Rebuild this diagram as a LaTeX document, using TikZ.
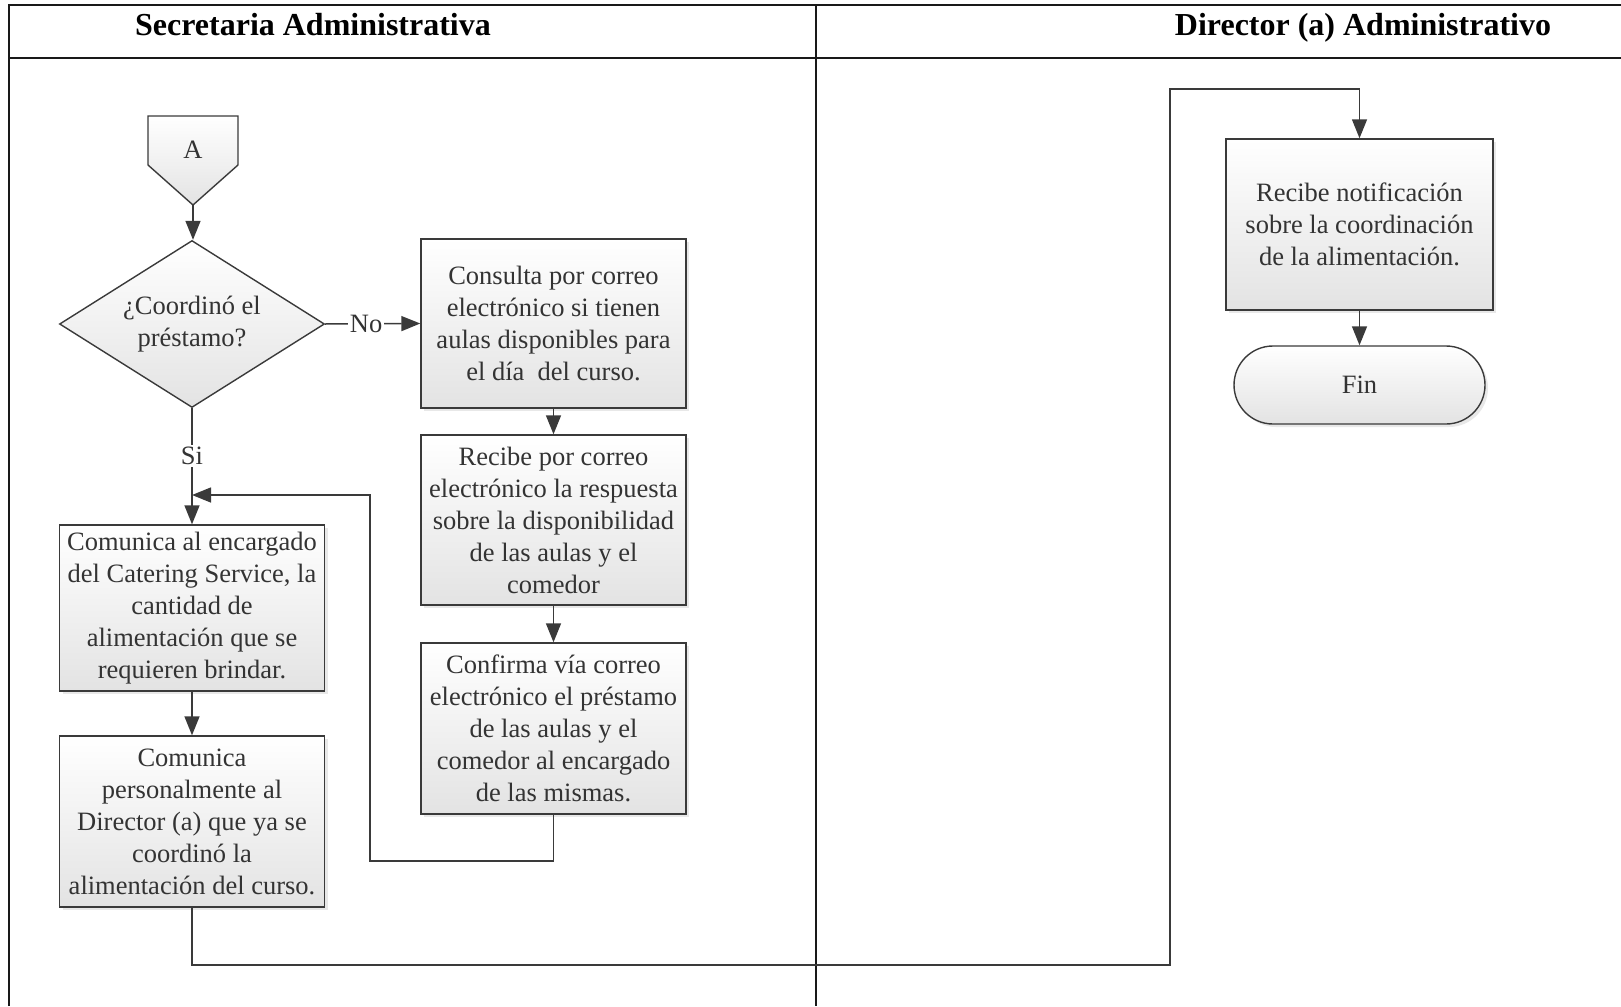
\documentclass[tikz,border=0pt]{standalone}
\usepackage{fontspec}
\setmainfont{Liberation Serif}
\usetikzlibrary{shapes.geometric,shapes.misc,arrows.meta,shadows}
\definecolor{ink}{HTML}{333333}
\definecolor{edgec}{HTML}{3A3A3A}
\newcommand\bxfont{\fontsize{26.5}{32}\selectfont}
\newcommand\ttlfont{\fontsize{32}{36}\selectfont\bfseries}
\begin{document}
\begin{tikzpicture}[x=1pt,y=-1pt,
  frame/.style={draw=black!90, line width=2pt},
  proc/.style={draw=edgec, line width=1.4pt, top color=white, bottom color=gray!22,
    minimum width=265pt, inner sep=0pt, align=center, font=\bxfont, text=ink,
    drop shadow={opacity=0.18, shadow xshift=3pt, shadow yshift=-3pt}},
  arr/.style={draw=edgec, line width=1.5pt, -{Triangle[length=19pt,width=15pt]}},
  lbl/.style={fill=white, inner sep=2pt, font=\bxfont, text=ink},
  ttl/.style={font=\ttlfont, text=black, anchor=base}]
\useasboundingbox (0,0) rectangle (1621,1006);
% frame
\draw[frame] (9,1006) -- (9,5) -- (1621,5);
\draw[frame] (9,58) -- (1621,58);
\draw[frame] (816,5) -- (816,1006);
\node[ttl] (t1) at (313,36) {Secretaria Administrativa};
\node[ttl] (t2) at (1363,36) {Director (a) Administrativo};
% off-page connector A
\path[draw=edgec, line width=1.4pt, top color=white, bottom color=gray!22]
  (148,116) -- (238,116) -- (238,165) -- (193,205) -- (148,165) -- cycle;
\node[font=\bxfont, text=ink] (A) at (193,150) {A};
\coordinate (Atip) at (193,205);
% decision
\node[diamond, draw=edgec, line width=1.4pt, top color=white, bottom color=gray!22,
  minimum width=265pt, minimum height=167pt, inner sep=0pt, aspect=1.59,
  align=center, font=\bxfont, text=ink] (dec) at (192,324)
  {¿Coordinó el\\préstamo?};
% process boxes
\node[proc, minimum height=169pt] (b1) at (553.5,323.5)
  {Consulta por correo\\electrónico si tienen\\aulas disponibles para\\el día \ del curso.};
\node[proc, minimum height=170pt] (b2) at (553.5,520)
  {Recibe por correo\\electrónico la respuesta\\sobre la disponibilidad\\de las aulas y el\\comedor};
\node[proc, minimum height=171pt] (b3) at (553.5,728.5)
  {Confirma vía correo\\electrónico el préstamo\\de las aulas y el\\comedor al encargado\\de las mismas.};
\node[proc, minimum height=166pt] (b4) at (192,608)
  {Comunica al encargado\\del Catering Service, la\\cantidad de\\alimentación que se\\requieren brindar.};
\node[proc, minimum height=171pt] (b5) at (192,821.5)
  {Comunica\\personalmente al\\Director (a) que ya se\\coordinó la\\alimentación del curso.};
\node[proc, minimum width=267pt, minimum height=171pt] (b6) at (1359.5,224.5)
  {Recibe notificación\\sobre la coordinación\\de la alimentación.};
\node[rounded rectangle, draw=edgec, line width=1.4pt, top color=white, bottom color=gray!22,
  minimum width=251pt, minimum height=78pt, inner sep=0pt, font=\bxfont, text=ink,
  drop shadow={opacity=0.18, shadow xshift=3pt, shadow yshift=-3pt}] (fin) at (1359.5,385) {Fin};
% connectors
\draw[arr] (Atip) -- (Atip |- dec.north);
\draw[arr] (dec.east) -- node[lbl, pos=0.43] {No} (b1.west);
\draw[arr] (dec.south) -- node[lbl, pos=0.41] {Si} (b4.north);
\draw[arr] (b1.south) -- (b2.north);
\draw[arr] (b2.south) -- (b3.north);
\coordinate (c1) at (553.5,861);
\coordinate (c2) at (370,861);
\coordinate (c3) at (370,495);
\coordinate (c4) at (192,495);
\draw[arr] (b3.south) -- (c1) -- (c2) -- (c3) -- (c4);
\draw[arr] (b4.south) -- (b5.north);
\coordinate (d1) at (192,965);
\coordinate (d2) at (1170,965);
\coordinate (d3) at (1170,89);
\coordinate (d4) at (1359.5,89);
\draw[arr] (b5.south) -- (d1) -- (d2) -- (d3) -- (d4) -- (b6.north);
\draw[arr] (b6.south) -- (fin.north);
\end{tikzpicture}
\end{document}
